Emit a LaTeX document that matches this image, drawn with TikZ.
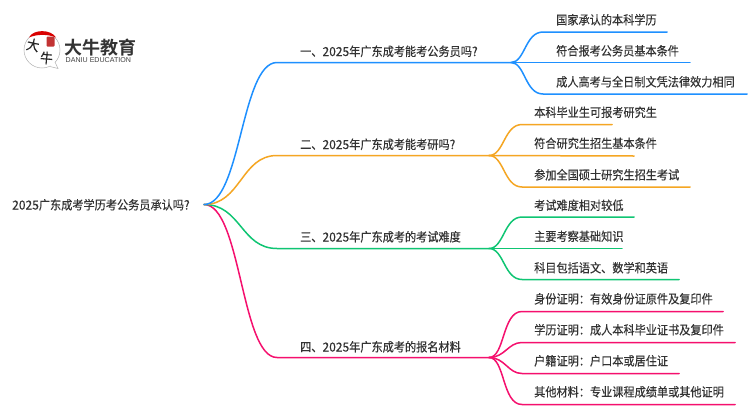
\documentclass[tikz,border=0pt]{standalone}
\usepackage{fontspec}
\setmainfont{Liberation Sans}
\newfontfamily\cjk[FakeStretch=0.9,FakeBold=0.25]{Noto Sans CJK SC}
\newfontfamily\cjkd[FakeStretch=0.97,FakeBold=0.25]{Noto Sans CJK SC}
\newfontfamily\cjkb{Noto Sans CJK SC Bold}
\newcommand{\dg}[1]{{\cjkd #1}}
\definecolor{cblue}{HTML}{1E90FF}
\definecolor{corange}{HTML}{F5A623}
\definecolor{cgreen}{HTML}{0FC573}
\definecolor{cpink}{HTML}{F5106E}
\definecolor{ctext}{HTML}{333333}
\tikzset{
  lab/.style={font=\cjk\fontsize{12.4}{14}\selectfont, text=ctext, anchor=base west, inner sep=0pt},
  conn/.style={line width=1.5pt, line cap=round},
  pt/.style={inner sep=0pt, minimum size=0pt}
}
\begin{document}
\begin{tikzpicture}[x=1pt,y=-1pt]
\useasboundingbox (0,0) rectangle (750,410);
\fill[white] (0,0) rectangle (750,410);
% logo
\draw[gray!60, line width=0.5pt, fill=white] (42,50) circle (18);
\draw[gray!60, line width=0.5pt, fill=white] (50,66.5) -- (58,68.5) -- (55,62);
\fill[white] (49,65.3) -- (55.5,67) -- (54,61.5) -- cycle;
\fill[red!85!black] (29,37.5) .. controls (33,29) and (51,29) .. (56,37.5) .. controls (48,34) and (37,34) .. (29,37.5) -- cycle;
\fill[red!70!black!80, rounded corners=1pt] (46.5,36.5) rectangle (54.5,46.5);
\node[pt, font=\cjk\fontsize{14}{14}\selectfont, text=black!85, rotate=-12] (l1) at (33,45) {大};
\node[pt, font=\cjk\fontsize{14}{14}\selectfont, text=black!85, rotate=-5] (l2) at (46.5,58) {牛};
\node[pt, font=\cjkb\fontsize{18}{18}\selectfont, text=black!80, anchor=west] (brand) at (64,47.5) {大牛教育};
\node[pt, font=\fontsize{7.1}{8}\selectfont, text=black!75, anchor=west] (brand2) at (65.5,60.5) {DANIU EDUCATION};
% coordinates
\coordinate (r) at (204,204.5);
\coordinate (a1) at (511,62.5);
\coordinate (b1) at (489,155.5);
\coordinate (c1) at (489,248.5);
\coordinate (d1) at (489,357.5);
% main
\draw[conn,cpink] (r) .. controls (241,204.5) and (241,357.5) .. (277,357.5) -- (d1);
\draw[conn,cgreen] (r) .. controls (241,204.5) and (241,248.5) .. (277,248.5) -- (c1);
\draw[conn,corange] (r) .. controls (241,204.5) and (241,155.5) .. (277,155.5) -- (b1);
\draw[conn,cblue] (r) .. controls (241,204.5) and (241,62.5) .. (277,62.5) -- (a1);
% blue children
\coordinate (a1a) at (667,32); \coordinate (a2a) at (690,62.5); \coordinate (a3a) at (747,94);
\draw[conn,cblue] (a1) .. controls (525,62.5) and (525,32) .. (543,32) -- (a1a);
\draw[conn,cblue] (a1) -- (a2a);
\draw[conn,cblue] (a1) .. controls (525,62.5) and (525,94) .. (543,94) -- (a3a);
% orange children
\coordinate (b1a) at (612,124.5); \coordinate (b2a) at (634,156); \coordinate (b3a) at (690,187);
\draw[conn,corange] (b1) .. controls (504,155.5) and (504,124.5) .. (522,124.5) -- (b1a);
\draw[conn,corange] (b1) -- (b2a);
\draw[conn,corange] (b1) .. controls (504,155.5) and (504,187) .. (522,187) -- (b3a);
% green children
\coordinate (c1a) at (634,217); \coordinate (c2a) at (622,248.5); \coordinate (c3a) at (679,279.5);
\draw[conn,cgreen] (c1) .. controls (504,248.5) and (504,217) .. (522,217) -- (c1a);
\draw[conn,cgreen] (c1) -- (c2a);
\draw[conn,cgreen] (c1) .. controls (504,248.5) and (504,279.5) .. (522,279.5) -- (c3a);
% pink children
\coordinate (d1a) at (723,311.5); \coordinate (d2a) at (735,342.5); \coordinate (d3a) at (679,373.5); \coordinate (d4a) at (735,404.5);
\draw[conn,cpink] (d1) .. controls (505,357.5) and (502,311.5) .. (522,311.5) -- (d1a);
\draw[conn,cpink] (d1) .. controls (505,357.5) and (508,342.5) .. (522,342.5) -- (d2a);
\draw[conn,cpink] (d1) .. controls (505,357.5) and (508,373.5) .. (522,373.5) -- (d3a);
\draw[conn,cpink] (d1) .. controls (505,357.5) and (502,404.5) .. (522,404.5) -- (d4a);
% labels
\node[lab] (root) at (12,209.5) {\dg{2025}广东成考学历考公务员承认吗\dg{?}};
\node[lab] (m1) at (300,56) {一、\dg{2025}年广东成考能考公务员吗\dg{?}};
\node[lab] (m2) at (300,149) {二、\dg{2025}年广东成考能考研吗\dg{?}};
\node[lab] (m3) at (300,241.5) {三、\dg{2025}年广东成考的考试难度};
\node[lab] (m4) at (300,351.5) {四、\dg{2025}年广东成考的报名材料};
\node[lab] (t1) at (556,24.5) {国家承认的本科学历};
\node[lab] (t2) at (556,55.5) {符合报考公务员基本条件};
\node[lab] (t3) at (556,86.5) {成人高考与全日制文凭法律效力相同};
\node[lab] (t4) at (534,117) {本科毕业生可报考研究生};
\node[lab] (t5) at (534,148) {符合研究生招生基本条件};
\node[lab] (t6) at (534,179.5) {参加全国硕士研究生招生考试};
\node[lab] (t7) at (534,210) {考试难度相对较低};
\node[lab] (t8) at (534,241) {主要考察基础知识};
\node[lab] (t9) at (534,272.5) {科目包括语文、数学和英语};
\node[lab] (t10) at (534,303.5) {身份证明：有效身份证原件及复印件};
\node[lab] (t11) at (534,334.5) {学历证明：成人本科毕业证书及复印件};
\node[lab] (t12) at (534,365.5) {户籍证明：户口本或居住证};
\node[lab] (t13) at (534,396.5) {其他材料：专业课程成绩单或其他证明};
\end{tikzpicture}
\end{document}
